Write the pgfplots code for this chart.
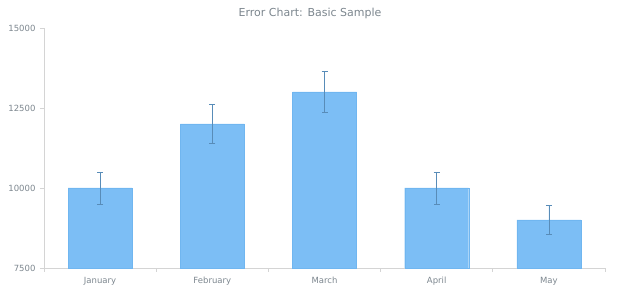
\documentclass[border=0pt]{standalone}
\usepackage{pgfplots}
\pgfplotsset{compat=1.18}
\usepackage{fontspec}
\setmainfont{DejaVu Sans}
\definecolor{barfill}{RGB}{124,190,245}
\definecolor{baredge}{RGB}{112,182,240}
\definecolor{errcol}{RGB}{88,140,184}
\definecolor{axisgray}{RGB}{212,212,212}
\definecolor{labgray}{RGB}{124,134,142}
\begin{document}
\begin{tikzpicture}
\begin{axis}[
  scale only axis, width=561pt, height=240pt,
  xmin=-0.5, xmax=4.5, ymin=7500, ymax=15000,
  axis lines*=left,
  axis line style={draw=axisgray, line width=0.8pt},
  ytick={7500,10000,12500,15000},
  scaled y ticks=false,
  xtick={0,1,2,3,4},
  xticklabels={January,February,March,April,May},
  minor xtick={-0.5,0.5,1.5,2.5,3.5,4.5},
  major x tick style={draw=none},
  minor x tick style={draw=axisgray, line width=0.8pt},
  major y tick style={draw=axisgray, line width=0.8pt},
  tick align=outside,
  major tick length=4pt, minor tick length=4pt,
  tick label style={font=\fontsize{8.5}{10}\selectfont, text=labgray},
  /pgf/number format/assume math mode=true,
  /pgf/number format/1000 sep={},
  yticklabel style={xshift=-1pt},
  xticklabel style={yshift=-2pt},
  clip=false,
]
\addplot[ybar, bar width=64pt, fill=barfill, draw=baredge,
  error bars/.cd, y dir=both, y explicit,
  error bar style={draw=errcol, line width=0.8pt},
  error mark options={rotate=90, mark size=3pt, draw=errcol, line width=0.8pt}]
  coordinates {
   (0,10000) +- (0,500)
   (1,12000) +- (0,600)
   (2,13000) +- (0,650)
   (3,10000) +- (0,500)
   (4,9000)  +- (0,450)
  };
\end{axis}
\node[font=\fontsize{11}{13}\selectfont, text=labgray] at ([xshift=266pt,yshift=255pt]current axis.south west) {Error Chart: Basic Sample};
\pgfresetboundingbox
\path[use as bounding box] ([xshift=-44pt,yshift=-32pt]current axis.south west) rectangle ([xshift=15pt,yshift=28pt]current axis.north east);
\end{tikzpicture}
\end{document}
